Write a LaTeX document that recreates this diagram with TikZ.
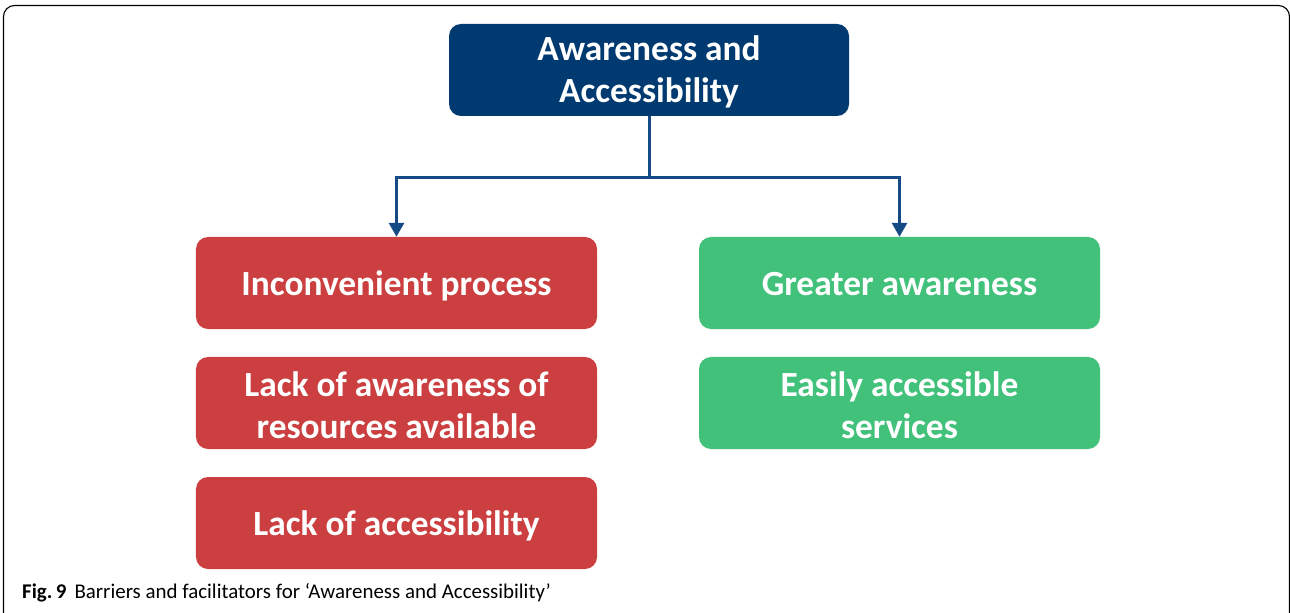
\documentclass[tikz,border=0pt]{standalone}
\usepackage{fontspec}
\setmainfont{Carlito}
\usetikzlibrary{arrows.meta,calc}
\definecolor{navy}{HTML}{003A70}
\definecolor{arrc}{HTML}{154A85}
\definecolor{redb}{HTML}{CC3F40}
\definecolor{greenb}{HTML}{42C17B}
\tikzset{
  x=1bp, y=-1bp,
  box/.style={rounded corners=12bp, minimum width=401bp, minimum height=92bp, inner sep=0pt},
  lbl/.style={inner sep=0pt, align=center, text=white, font=\fontsize{35.5}{42}\selectfont\bfseries},
  redbox/.style={box, fill=redb},
  greenbox/.style={box, fill=greenb},
  topbox/.style={box, fill=navy, minimum width=400bp},
  conn/.style={draw=arrc, line width=3bp},
  arr/.style={conn, -{Triangle[width=15bp,length=14bp]}},
}
\begin{document}
\begin{tikzpicture}
\useasboundingbox (0,0) rectangle (1290,613);
\clip (0,0) rectangle (1290,613);
\draw[black, line width=1.1bp, rounded corners=11bp] (3.5,630) -- (3.5,5.5) -- (1289.5,5.5) -- (1289.5,630);
\node[topbox] (top) at (649,70) {};
\node[redbox] (r1) at (396.5,283) {};
\node[redbox] (r2) at (396.5,403) {};
\node[redbox] (r3) at (396.5,523) {};
\node[greenbox] (g1) at (899.5,283) {};
\node[greenbox] (g2) at (899.5,403) {};
\node[lbl] (ttop) at ($(top.center)+(0,2)$) {Awareness and\\Accessibility};
\node[lbl] (tr1) at ($(r1.center)+(0,3)$) {Inconvenient process};
\node[lbl] (tr2) at ($(r2.center)+(0,2)$) {Lack of awareness of\\resources available};
\node[lbl] (tr3) at ($(r3.center)+(0,3)$) {Lack of accessibility};
\node[lbl] (tg1) at ($(g1.center)+(0,1)$) {Greater awareness};
\node[lbl] (tg2) at ($(g2.center)+(0,2)$) {Easily accessible\\services};
\draw[conn] (top.south) -- (649,178) coordinate (j);
\draw[arr] (j) -| (r1.north);
\draw[arr] (j) -| (g1.north);
\node[anchor=base west, inner sep=0pt, font=\fontsize{21}{24}\selectfont] (cap) at (22,598)
  {\textbf{Fig.\,9}\hspace{8bp}Barriers and facilitators for ‘Awareness and Accessibility’};
\end{tikzpicture}
\end{document}
